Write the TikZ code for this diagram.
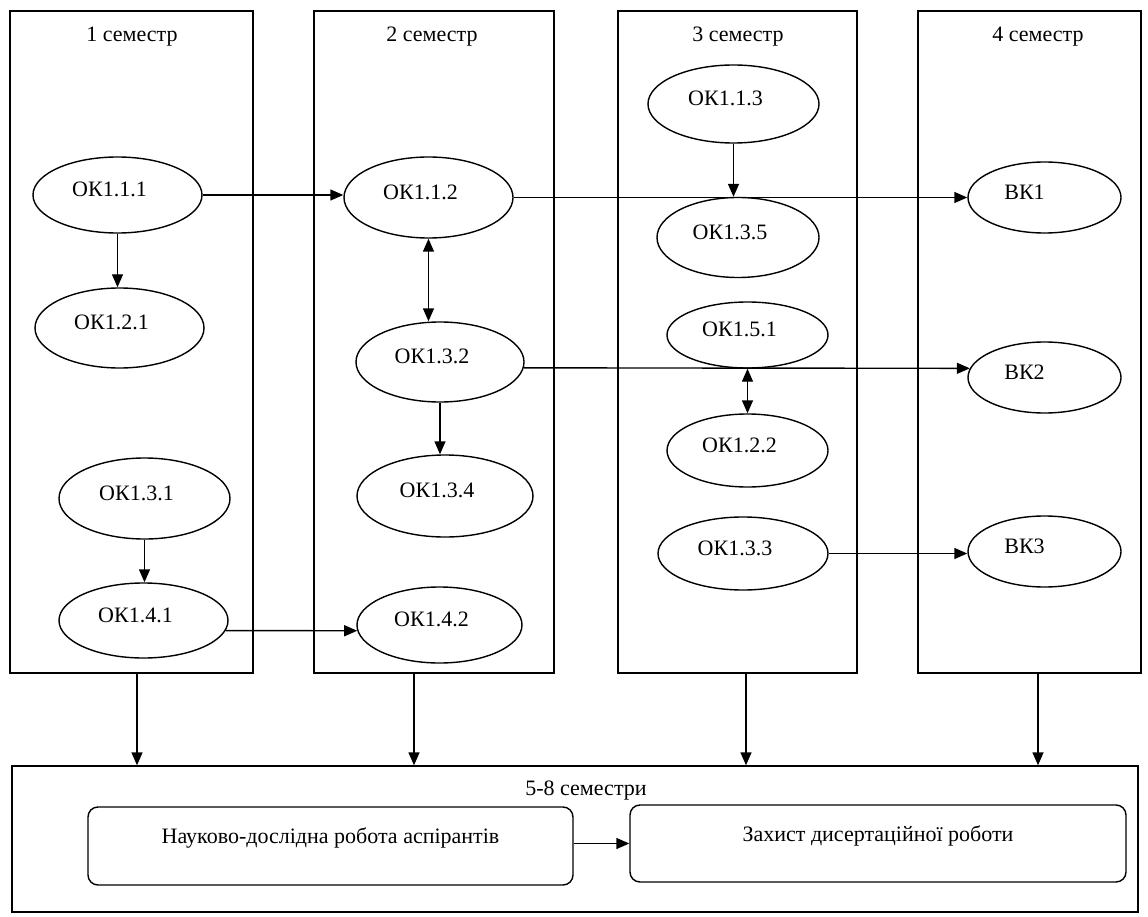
\documentclass[tikz,border=0pt]{standalone}
\usepackage{fontspec}
\setmainfont{Liberation Serif}
\usetikzlibrary{shapes.geometric,arrows.meta}
\begin{document}
\begin{tikzpicture}[x=1pt,y=-1pt,line width=1.4pt,font=\fontsize{22}{26}\selectfont,
compell/.style={draw,ellipse,inner sep=3pt,text depth=11pt},
okell/.style={compell,execute at end node={\hspace*{16pt}}},
vkell/.style={compell,minimum width=153pt,minimum height=71pt,execute at end node={\hspace*{40pt}}},
rbox/.style={draw,rounded corners=10pt,text height=15pt,text depth=20pt},
arr/.style={-{Triangle[length=13pt,width=11pt]}},
dbl/.style={{Triangle[length=13pt,width=11pt]}-{Triangle[length=13pt,width=11pt]}}]
\useasboundingbox(0,0)rectangle(1148,917);
\foreach \kc/\xa/\xb/\xt/\xd in {1/10/253/132/137,2/314/554/432/414,3/618/857/738/746,4/918/1141/1038/1038}{\draw(\xa,11)rectangle(\xb,673);\node[anchor=base](t\kc)at(\xt,42){\kc\ семестр};\coordinate(d\kc)at(\xd,673);}
\foreach \kn/\x/\y/\kw/\kh/\ka in {ok111/117.5/195/169/76/ОК1.1.1,ok121/119.5/328/169/80/ОК1.2.1,ok131/144.5/498.5/171/81/ОК1.3.1,ok141/143.5/620.5/169/75/ОК1.4.1,ok112/428.5/197.5/169/81/ОК1.1.2,ok132/440/362/168/80/ОК1.3.2,ok134/445/496/176/82/ОК1.3.4,ok142/439.5/625/165/76/ОК1.4.2,ok113/733.5/104/171/78/ОК1.1.3,ok135/738/237.5/162/80/ОК1.3.5,ok151/747.5/335/161/66/ОК1.5.1,ok122/747.5/450.5/161/73/ОК1.2.2,ok133/743/553.5/170/73/ОК1.3.3}{\node[okell,minimum width=\kw pt,minimum height=\kh pt](\kn)at(\x,\y){\ka};}
\foreach \kn/\y/\ka in {vk1/197.5/ВК1,vk2/377.5/ВК2,vk3/551.5/ВК3}{\node[vkell](\kn)at(1044.5,\y){\ka};}
\node[draw,minimum width=1126pt,minimum height=146pt](fin)at(575,839){};
\node[anchor=base](t58)at(586,795){5-8 семестри};
\node[rbox,minimum width=485pt,minimum height=78pt](nd)at(330.5,846){Науково-дослідна робота аспірантів};
\node[rbox,minimum width=496pt,minimum height=77pt](zd)at(878,843.5){Захист дисертаційної роботи};
\draw[arr](ok111.east)--(ok111.east-|ok112.west);
\draw[arr](ok112.east)--(vk1.west);
\draw[arr](ok111.south)--(ok111.south|-ok121.north);
\draw[arr](ok131.south)--(ok131.south|-ok141.north);
\draw[arr](ok141.-7)--(ok142.184);
\draw[dbl](ok112.south)--(ok112.south|-ok132.north);
\draw[arr](ok132.south)--(ok132.south|-ok134.north);
\draw[arr](ok132.-4)--(vk2.173);
\draw[arr](ok113.south)--(ok113.south|-ok135.north);
\draw[dbl](ok151.south)--(ok151.south|-ok122.north);
\draw[arr](ok133.east)--(ok133.east-|vk3.west);
\foreach \kc in {1,...,4}{\draw[arr](d\kc)--(d\kc|-fin.north);}
\draw[arr](nd.east|-zd.west)--(zd.west);
\end{tikzpicture}
\end{document}
